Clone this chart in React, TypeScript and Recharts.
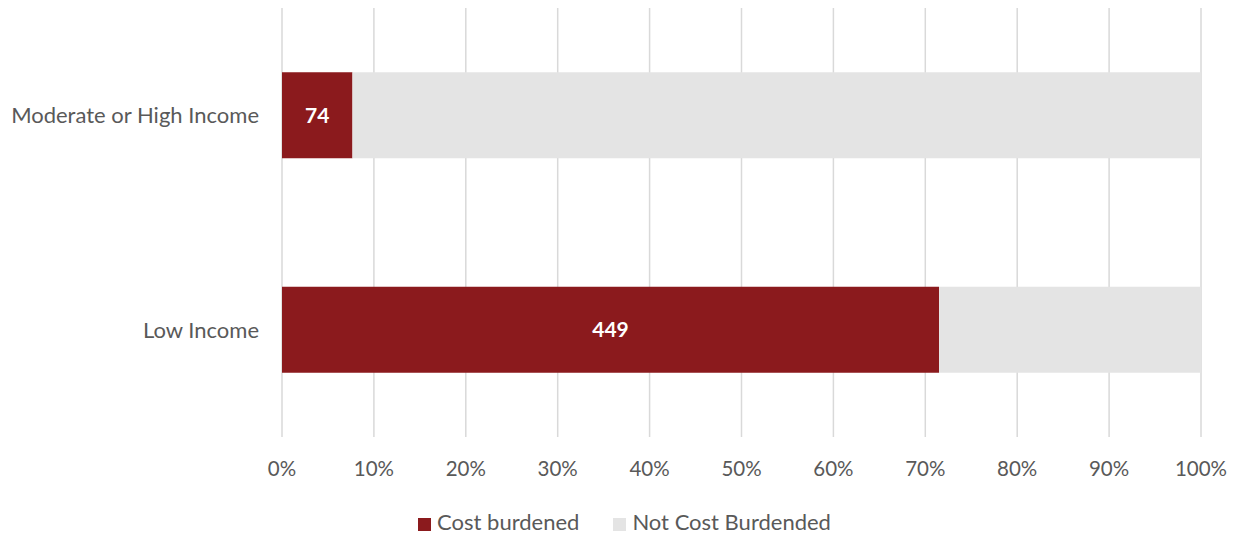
import React from "react";
import {
  BarChart,
  Bar,
  XAxis,
  YAxis,
  CartesianGrid,
  Legend,
  LabelList,
} from "recharts";

// Datos
const categorias = ["Moderate or High Income", "Low Income"];
const costBurdened = [74, 449];
const notCostBurdened = [891, 179];
const ticksX = [0, 0.1, 0.2, 0.3, 0.4, 0.5, 0.6, 0.7, 0.8, 0.9, 1];

const COLORS = {
  burdened: "#8b1a1d",
  notBurdened: "#e4e4e4",
  grid: "#d9d9d9",
  text: "#595959",
};

const FONT = "Lato, 'Source Sans Pro', 'Open Sans', sans-serif";

const data = categorias.map((name, i) => ({
  name,
  "Cost burdened": costBurdened[i],
  "Not Cost Burdended": notCostBurdened[i],
}));

const App: React.FC = () => {
  return (
    <div style={{ position: "absolute", left: 0, top: 0, fontFamily: FONT }}>
      <BarChart
        width={1241}
        height={535}
        data={data}
        layout="vertical"
        stackOffset="expand"
        barCategoryGap="30%"
        margin={{ top: 8, right: 40, left: 0, bottom: 0 }}
      >
        <CartesianGrid horizontal={false} stroke={COLORS.grid} strokeWidth={1.5} />
        <XAxis
          type="number"
          domain={[0, 1]}
          ticks={ticksX}
          tickFormatter={(v: number) => `${Math.round(v * 100)}%`}
          axisLine={false}
          tickLine={false}
          height={72}
          tickMargin={18}
          tick={{ fill: COLORS.text, fontSize: 20.5, fontFamily: FONT }}
        />
        <YAxis
          type="category"
          dataKey="name"
          width={282}
          axisLine={false}
          tickLine={false}
          tickMargin={17}
          tick={{ fill: COLORS.text, fontSize: 22, fontFamily: FONT }}
        />
        <Legend
          verticalAlign="bottom"
          align="center"
          iconType="square"
          iconSize={13}
          wrapperStyle={{
            fontSize: 22,
            fontFamily: FONT,
            lineHeight: "26px",
            paddingLeft: 58,
            boxSizing: "border-box",
          }}
          formatter={(value: string, _entry: unknown, index: number) => (
            <span
              style={{
                color: COLORS.text,
                marginLeft: 2,
                marginRight: index === 0 ? 24 : 0,
              }}
            >
              {value}
            </span>
          )}
        />
        <Bar
          dataKey="Cost burdened"
          stackId="a"
          fill={COLORS.burdened}
          isAnimationActive={false}
        >
          <LabelList
            dataKey="Cost burdened"
            position="center"
            fill="#ffffff"
            fontSize={21}
            fontWeight={700}
            fontFamily={FONT}
          />
        </Bar>
        <Bar
          dataKey="Not Cost Burdended"
          stackId="a"
          fill={COLORS.notBurdened}
          isAnimationActive={false}
        />
      </BarChart>
    </div>
  );
};

export default App;
